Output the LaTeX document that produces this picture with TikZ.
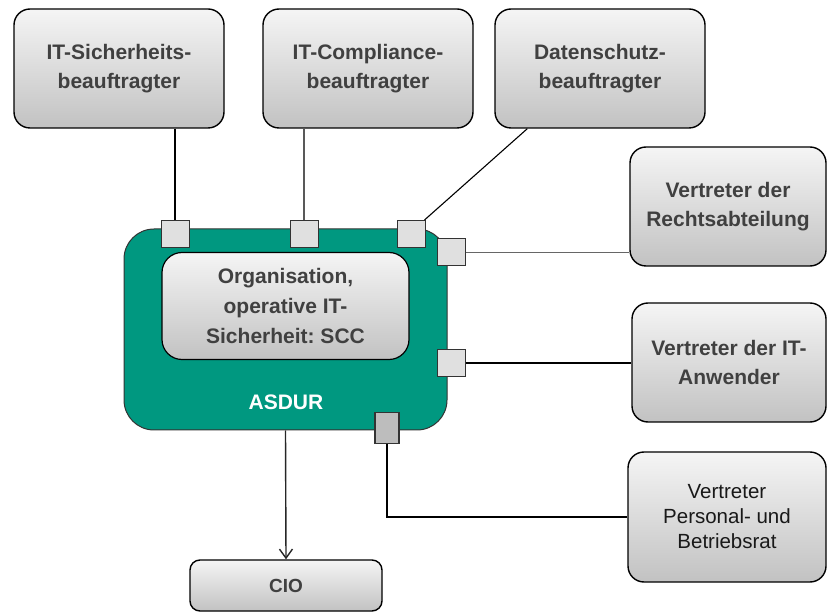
\documentclass[tikz,border=0pt]{standalone}
\usepackage{fontspec}
\setmainfont{Liberation Sans}
\usetikzlibrary{arrows.meta}
\frenchspacing

\definecolor{asdurgreen}{RGB}{0,152,128}
\definecolor{boxtext}{RGB}{64,64,64}
\definecolor{porthell}{RGB}{224,224,224}
\definecolor{portdunkel}{RGB}{189,189,189}

\tikzset{
    rolle/.style={draw=black, line width=1.4pt, rounded corners=16pt,
        top color=gray!8, bottom color=gray!48, text=boxtext,
        align=center, inner sep=0pt,
        font=\bfseries\fontsize{21}{29}\selectfont},
    port/.style={draw=black!80, line width=1pt, fill=porthell,
        minimum width=28pt, minimum height=27pt, inner sep=0pt},
    verbindung/.style={draw=black, line width=1.4pt}
}

\begin{document}
\begin{tikzpicture}[x=1pt, y=-1pt]
    \useasboundingbox (0,0) rectangle (828,612);

    % ASDUR mit SCC
    \node [draw=black!80, line width=1pt, fill=asdurgreen, rounded corners=30pt,
        minimum width=323pt, minimum height=201pt] (asdur) at (285.5,329.5) {};
    \node [rolle, line width=1.2pt, rounded corners=20pt,
        minimum width=247pt, minimum height=107pt,
        font=\bfseries\fontsize{21}{30}\selectfont] (scc) at (285.5,306)
        {Organisation,\\operative IT-\\Sicherheit: SCC};
    \node [text=white, font=\bfseries\fontsize{21}{24}\selectfont] (asdurlabel) at (286,402) {ASDUR};

    % Rollen
    \node [rolle, minimum width=210pt, minimum height=119pt] (sich) at (119,68.5) {IT-Sicherheits-\\beauftragter};
    \node [rolle, minimum width=210pt, minimum height=119pt] (comp) at (368,68.5) {IT-Compliance-\\beauftragter};
    \node [rolle, minimum width=210pt, minimum height=119pt] (daten) at (600,68.5) {Datenschutz-\\beauftragter};
    \node [rolle, minimum width=196pt, minimum height=119pt] (recht) at (728,206.5) {Vertreter der\\Rechtsabteilung};
    \node [rolle, minimum width=194pt, minimum height=119pt] (anw) at (729,362.5) {Vertreter der IT-\\Anwender};
    \node [rolle, minimum width=198pt, minimum height=130pt, text=black!90,
        font=\fontsize{20.5}{25}\selectfont] (pers) at (727,517) {Vertreter\\Personal- und\\Betriebsrat};
    \node [rolle, minimum width=192pt, minimum height=51pt, rounded corners=10pt,
        font=\bfseries\fontsize{19}{24}\selectfont] (cio) at (286,585.5) {CIO};

    % Anschluesse
    \node [port] (p1) at (175,234) {};
    \node [port] (p2) at (304,234) {};
    \node [port] (p3) at (411,234) {};
    \node [port] (pr1) at (451,252.5) {};
    \node [port] (pr2) at (451,363) {};
    \node [port, fill=portdunkel, line width=1.4pt, minimum width=24pt, minimum height=31pt] (pb) at (387,428) {};

    % Verbindungen
    \draw [verbindung] (sich.south -| p1) -- (p1.north);
    \draw [verbindung, draw=black!65, line width=1.2pt] (comp.south -| p2) -- (p2.north);
    \draw [verbindung, line width=1.1pt] ([xshift=33pt]daten.south west) -- ([xshift=-1pt]p3.north east);
    \draw [verbindung, draw=black!60] (pr1.east) -- (pr1 -| recht.west);
    \draw [verbindung] (pr2.east) -- (pr2 -| anw.west);
    \draw [verbindung, line width=2pt] (pb.south) |- (pers.west);
    \draw [verbindung, draw=black!85, line width=1.4pt, -{Straight Barb[length=9pt,width=13pt]}] (asdur.south) -- (cio.north);
\end{tikzpicture}
\end{document}
